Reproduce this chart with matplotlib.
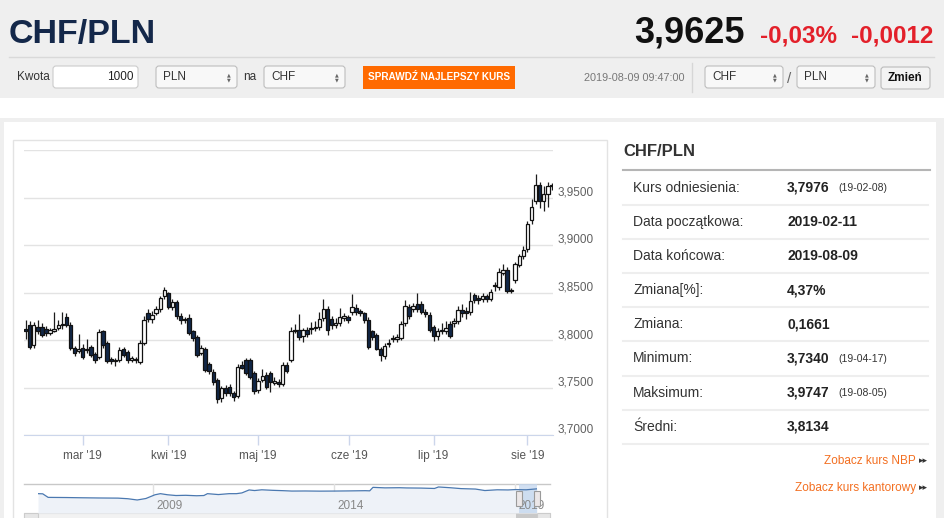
import numpy as np
import pandas as pd
import matplotlib
matplotlib.use('Agg')
import matplotlib.pyplot as plt
from matplotlib.patches import Rectangle, FancyBboxPatch
from matplotlib.transforms import ScaledTranslation, blended_transform_factory

plt.rcParams['font.family'] = ['Liberation Sans', 'DejaVu Sans']

# ---- daily CHF/PLN candles ----
opens = [3.812, 3.816, 3.795, 3.814, 3.814, 3.812, 3.807, 3.810, 3.813, 3.816,
         3.824, 3.816, 3.792, 3.788, 3.792, 3.789, 3.793, 3.785, 3.782, 3.809,
         3.797, 3.780, 3.778, 3.779, 3.791, 3.787, 3.779, 3.780, 3.777, 3.797,
         3.828, 3.822, 3.828, 3.833, 3.846, 3.849, 3.835, 3.840, 3.825, 3.822,
         3.823, 3.809, 3.803, 3.786, 3.791, 3.775, 3.766, 3.758, 3.739, 3.749,
         3.751, 3.744, 3.741, 3.774, 3.779, 3.779, 3.765, 3.747, 3.758, 3.763,
         3.765, 3.755, 3.756, 3.754, 3.774, 3.779, 3.810, 3.811, 3.804, 3.811,
         3.812, 3.813, 3.814, 3.823, 3.833, 3.822, 3.816, 3.818, 3.823, 3.824,
         3.829, 3.834, 3.830, 3.828, 3.821, 3.809, 3.805, 3.791, 3.783, 3.796,
         3.801, 3.801, 3.802, 3.818, 3.835, 3.833, 3.838, 3.838, 3.830, 3.826,
         3.814, 3.804, 3.809, 3.809, 3.817, 3.818, 3.820, 3.832, 3.830, 3.829,
         3.847, 3.844, 3.843, 3.846, 3.843, 3.857, 3.856, 3.871, 3.874, 3.852,
         3.863, 3.879, 3.888, 3.896, 3.926, 3.946, 3.963, 3.946, 3.954, 3.963]
closes = [3.809, 3.793, 3.816, 3.810, 3.805, 3.807, 3.811, 3.812, 3.816, 3.817,
          3.816, 3.792, 3.786, 3.791, 3.782, 3.791, 3.784, 3.779, 3.808, 3.795,
          3.778, 3.778, 3.779, 3.790, 3.784, 3.779, 3.781, 3.779, 3.797, 3.821,
          3.822, 3.826, 3.833, 3.844, 3.853, 3.835, 3.840, 3.825, 3.821, 3.821,
          3.807, 3.802, 3.784, 3.792, 3.768, 3.767, 3.756, 3.738, 3.749, 3.744,
          3.744, 3.740, 3.772, 3.771, 3.765, 3.761, 3.746, 3.757, 3.762, 3.751,
          3.756, 3.757, 3.754, 3.774, 3.767, 3.809, 3.811, 3.803, 3.811, 3.806,
          3.813, 3.813, 3.822, 3.833, 3.811, 3.816, 3.818, 3.824, 3.825, 3.821,
          3.835, 3.829, 3.828, 3.821, 3.793, 3.803, 3.791, 3.784, 3.794, 3.797,
          3.802, 3.803, 3.817, 3.836, 3.825, 3.836, 3.833, 3.830, 3.827, 3.811,
          3.804, 3.810, 3.810, 3.813, 3.804, 3.820, 3.832, 3.828, 3.828, 3.841,
          3.842, 3.842, 3.846, 3.843, 3.851, 3.857, 3.872, 3.874, 3.852, 3.852,
          3.880, 3.888, 3.895, 3.922, 3.940, 3.963, 3.946, 3.954, 3.962, 3.962]
highs = [3.821, 3.820, 3.819, 3.821, 3.818, 3.815, 3.813, 3.830, 3.821, 3.829,
         3.828, 3.819, 3.794, 3.806, 3.796, 3.801, 3.795, 3.787, 3.812, 3.811,
         3.799, 3.782, 3.781, 3.793, 3.793, 3.789, 3.783, 3.782, 3.800, 3.825,
         3.833, 3.831, 3.836, 3.846, 3.856, 3.851, 3.843, 3.842, 3.828, 3.824,
         3.827, 3.811, 3.805, 3.795, 3.793, 3.777, 3.769, 3.760, 3.752, 3.753,
         3.754, 3.746, 3.775, 3.778, 3.781, 3.781, 3.767, 3.760, 3.769, 3.766,
         3.767, 3.761, 3.759, 3.777, 3.777, 3.814, 3.817, 3.827, 3.813, 3.814,
         3.819, 3.820, 3.830, 3.843, 3.836, 3.825, 3.823, 3.834, 3.828, 3.826,
         3.848, 3.838, 3.833, 3.830, 3.824, 3.811, 3.807, 3.793, 3.797, 3.801,
         3.805, 3.806, 3.820, 3.842, 3.838, 3.839, 3.849, 3.841, 3.833, 3.829,
         3.816, 3.813, 3.818, 3.820, 3.820, 3.823, 3.836, 3.838, 3.835, 3.851,
         3.849, 3.847, 3.849, 3.848, 3.854, 3.861, 3.876, 3.880, 3.877, 3.855,
         3.882, 3.891, 3.899, 3.925, 3.948, 3.975, 3.966, 3.962, 3.966, 3.965]
lows = [3.801, 3.791, 3.792, 3.806, 3.803, 3.804, 3.805, 3.808, 3.811, 3.812,
        3.814, 3.790, 3.783, 3.786, 3.780, 3.786, 3.782, 3.776, 3.780, 3.792,
        3.776, 3.775, 3.773, 3.777, 3.782, 3.776, 3.777, 3.776, 3.775, 3.795,
        3.819, 3.818, 3.826, 3.830, 3.843, 3.833, 3.832, 3.822, 3.817, 3.818,
        3.805, 3.799, 3.782, 3.784, 3.766, 3.764, 3.753, 3.734, 3.735, 3.741,
        3.741, 3.736, 3.739, 3.769, 3.763, 3.759, 3.743, 3.744, 3.756, 3.748,
        3.745, 3.753, 3.751, 3.752, 3.765, 3.777, 3.807, 3.800, 3.798, 3.803,
        3.806, 3.810, 3.811, 3.820, 3.805, 3.812, 3.813, 3.815, 3.820, 3.818,
        3.826, 3.826, 3.825, 3.818, 3.791, 3.800, 3.789, 3.778, 3.780, 3.793,
        3.798, 3.798, 3.800, 3.815, 3.822, 3.830, 3.830, 3.827, 3.824, 3.808,
        3.799, 3.800, 3.806, 3.806, 3.802, 3.814, 3.817, 3.824, 3.822, 3.826,
        3.839, 3.838, 3.840, 3.840, 3.841, 3.852, 3.853, 3.868, 3.850, 3.850,
        3.860, 3.877, 3.885, 3.893, 3.922, 3.943, 3.939, 3.936, 3.940, 3.958]
dates = pd.bdate_range('2019-02-11', '2019-08-09')

month_starts = pd.to_datetime(['2019-03-01', '2019-04-01', '2019-05-01',
                               '2019-06-01', '2019-07-01', '2019-08-01'])
month_labels = ["mar '19", "kwi '19", "maj '19", "cze '19", "lip '19", "sie '19"]
y_ticks = [3.70, 3.75, 3.80, 3.85, 3.90, 3.95, 4.00]

# ---- long history for the navigator ----
nav_years = [2005.82, 2005.95, 2006.1, 2006.6, 2007.0, 2007.5, 2008.03, 2008.3, 2008.56,
             2008.8, 2009.05, 2009.2, 2009.4, 2009.63, 2009.9, 2010.2, 2010.4, 2010.5,
             2010.8, 2011.1, 2011.3, 2011.45, 2011.65, 2011.8, 2012.0, 2012.3, 2012.6,
             2012.83, 2013.2, 2013.6, 2014.0, 2014.4, 2014.86, 2014.98, 2015.07, 2015.4,
             2015.8, 2016.0, 2016.4, 2016.77, 2016.88, 2017.2, 2017.5, 2017.9, 2018.16,
             2018.5, 2018.8, 2019.0, 2019.3, 2019.6]
nav_values = [3.10, 3.08, 2.60, 2.58, 2.55, 2.52, 2.50, 2.42, 2.25,
              2.45, 2.95, 3.10, 2.95, 2.85, 2.88, 2.82, 2.85, 3.10,
              2.98, 3.10, 3.10, 3.20, 3.60, 3.52, 3.62, 3.55, 3.50,
              3.45, 3.46, 3.44, 3.45, 3.47, 3.50, 3.48, 3.95, 3.88,
              3.90, 3.87, 3.85, 3.80, 4.00, 3.90, 3.78, 3.72, 3.52,
              3.62, 3.60, 3.65, 3.62, 3.75]
nav_year_ticks = [2009, 2014, 2019]

stats_labels = ['Kurs odniesienia:', 'Data początkowa:', 'Data końcowa:', 'Zmiana[%]:',
                'Zmiana:', 'Minimum:', 'Maksimum:', 'Średni:']
stats_values = ['3,7976', '2019-02-11', '2019-08-09', '4,37%', '0,1661',
                '3,7340', '3,9747', '3,8134']
stats_dates = ['(19-02-08)', '', '', '', '', '(19-04-17)', '(19-08-05)', '']

W, H = 945, 518
fig = plt.figure(figsize=(W / 100, H / 100), dpi=100, facecolor='#efefef')


def box(l, t, r, b):
    return [l / W, 1 - b / H, (r - l) / W, (b - t) / H]


bg = fig.add_axes([0, 0, 1, 1])
bg.set_xlim(0, W)
bg.set_ylim(H, 0)
bg.axis('off')

# page background pieces
bg.add_patch(Rectangle((0, 98), W, 20, color='white', lw=0))
bg.add_patch(Rectangle((4, 122), 932, 400, color='white', lw=0))
bg.plot([9, 934], [57, 57], color='#d9d9d9', lw=1)

# header
bg.text(9, 43, 'CHF/PLN', fontsize=24.5, fontweight='bold', color='#14284a',
        va='baseline')
bg.text(745, 43, '3,9625', fontsize=26, fontweight='bold', color='#111111',
        ha='right', va='baseline')
bg.text(837, 42, '-0,03%', fontsize=17.5, fontweight='bold', color='#e3202a',
        ha='right', va='baseline')
bg.text(933, 42, '-0,0012', fontsize=17.5, fontweight='bold', color='#e3202a',
        ha='right', va='baseline')


def rbox(l, t, r, b, face, edge):
    bg.add_patch(FancyBboxPatch((l, t), r - l, b - t, boxstyle='round,pad=0,rounding_size=3',
                                facecolor=face, edgecolor=edge, lw=0.8))


def select(l, r, txt):
    rbox(l, 66, r, 88, '#f8f8f8', '#bdbdbd')
    bg.text(l + 7, 77, txt, fontsize=8.5, color='#333333', va='center')
    bg.text(r - 8, 74.5, '▲', fontsize=3.5, color='#666666', ha='center', va='center',
            family='DejaVu Sans')
    bg.text(r - 8, 79.5, '▼', fontsize=3.5, color='#666666', ha='center', va='center',
            family='DejaVu Sans')


bg.text(17, 77, 'Kwota', fontsize=8.5, color='#333333', va='center')
rbox(53, 66, 138, 88, 'white', '#cccccc')
bg.text(134, 77, '1000', fontsize=8.5, color='#222222', va='center', ha='right')
select(156, 237, 'PLN')
bg.text(243, 77, 'na', fontsize=8.5, color='#333333', va='center')
select(264, 345, 'CHF')
bg.add_patch(Rectangle((363, 66), 152, 23, color='#ff6a00', lw=0))
bg.text(439, 77.5, 'SPRAWDŹ NAJLEPSZY KURS', fontsize=7.2, color='white',
        ha='center', va='center', fontweight='bold')
bg.text(584, 78, '2019-08-09 09:47:00', fontsize=7.8, color='#777777', va='center')
bg.plot([692, 692], [63, 92], color='#d6d6d6', lw=1)
select(705, 783, 'CHF')
bg.text(789, 79, '/', fontsize=11, color='#666666', va='center', ha='center')
select(797, 875, 'PLN')
rbox(881, 67, 930, 89, '#f3f3f3', '#bbbbbb')
bg.text(905.5, 78, 'Zmień', fontsize=8.5, fontweight='bold', color='#111111',
        ha='center', va='center')

# chart panel frame
bg.add_patch(Rectangle((13, 140), 594, 390, facecolor='white', edgecolor='#e3e3e3', lw=1))

# ---- candlestick chart ----
ax = fig.add_axes(box(24, 150, 553, 435))
idx = np.arange(len(closes))
o = np.array(opens)
c = np.array(closes)
hi = np.array(highs)
lo = np.array(lows)
up = c >= o
ax.vlines(idx, lo, hi, color='#1c1c1c', lw=0.9, zorder=2)
bottom = np.minimum(o, c)
height = np.maximum(np.abs(c - o), 0.0007)
ax.bar(idx[up], height[up], bottom=bottom[up], width=0.84, color='white',
       edgecolor='#111111', lw=0.9, zorder=3)
ax.bar(idx[~up], height[~up], bottom=bottom[~up], width=0.84, color='#112748',
       edgecolor='#111111', lw=0.9, zorder=3)

slot = 4.08
ax.set_xlim((24 - 25.6) / slot, (553 - 25.6) / slot)
ax.set_ylim(3.70, 4.00)
ax.set_yticks(y_ticks)
ax.set_yticklabels([f'{v:.4f}'.replace('.', ',') if v < 3.999 else '' for v in y_ticks])
ax.yaxis.tick_right()
ax.tick_params(axis='y', length=0, pad=3, labelsize=8.5, labelcolor='#606060')
for lbl in ax.get_yticklabels():
    lbl.set_transform(lbl.get_transform() + ScaledTranslation(0, 0.065, fig.dpi_scale_trans))
ax.yaxis.grid(True, color='#e3e3e3', lw=1)
ax.set_axisbelow(True)

tick_pos = np.interp(month_starts.asi8, dates.asi8, idx)
ax.set_xticks(tick_pos)
ax.set_xticklabels(month_labels)
ax.tick_params(axis='x', length=7.5, width=1, color='#ccd6eb', labelsize=8.5,
               labelcolor='#555555', pad=3)
for side in ['top', 'left', 'right']:
    ax.spines[side].set_visible(False)
ax.spines['bottom'].set_color('#ccd6eb')

# ---- navigator ----
nav = fig.add_axes(box(38, 484, 537, 513))
nav.set_xlim(nav_years[0], nav_years[-1])
nav.set_ylim(0.5, 4.4)
nav.fill_between(nav_years, nav_values, 0.5, color='#eef2f8', lw=0)
nav.plot(nav_years, nav_values, color='#4a78b0', lw=0.9)
nav.axis('off')
tr = blended_transform_factory(nav.transData, nav.transAxes)
for yr in nav_year_ticks:
    nav.plot([yr, yr], [0, 1], transform=tr, color='#e0e0e0', lw=1, zorder=0)
    nav.text(yr + 0.1, 0.24, str(yr), transform=tr, fontsize=8.5, color='#888888',
             va='center', ha='left')
sel_start = dates[0].year + (dates[0].dayofyear - 1) / 365
sel_end = dates[-1].year + (dates[-1].dayofyear - 1) / 365
nav.axvspan(sel_start, sel_end, color='#c3d6ee', alpha=0.75, lw=0)
hw = 6 / 36.2
for xe in [sel_start, sel_end]:
    nav.add_patch(Rectangle((xe - hw / 2, 0.25), hw, 0.5, transform=tr, facecolor='#ebe7e8',
                            edgecolor='#9a9a9a', lw=0.8, clip_on=False, zorder=5))

bg.plot([24, 550], [484, 484], color='#c8c8c8', lw=1)
bg.add_patch(Rectangle((24, 513), 526, 8, facecolor='#f2f2f2', edgecolor='#dddddd', lw=0.8))
bg.add_patch(Rectangle((516, 513), 21, 8, facecolor='#c9c9c9', lw=0))
bg.add_patch(Rectangle((24, 513), 14, 8, facecolor='#e6e6e6', edgecolor='#cccccc', lw=0.8))
bg.add_patch(Rectangle((537, 513), 13, 8, facecolor='#e6e6e6', edgecolor='#cccccc', lw=0.8))

# ---- stats panel ----
bg.text(623, 152, 'CHF/PLN', fontsize=12, fontweight='bold', color='#333333', va='center')
bg.plot([623, 930], [169.5, 169.5], color='#b5b5b5', lw=1.5)
row_h = 34.2
for k, (lab, val, dt) in enumerate(zip(stats_labels, stats_values, stats_dates)):
    yc = 187.5 + k * row_h
    bg.text(633, yc, lab, fontsize=10, color='#333333', va='center')
    bg.text(787, yc, val, fontsize=10, fontweight='bold', color='#222222', va='center')
    if dt:
        bg.text(838, yc + 0.5, dt, fontsize=7.5, color='#333333', va='center')
    bg.plot([623, 928], [yc + row_h / 2, yc + row_h / 2], color='#eeeeee', lw=1.5)

bg.text(916, 461, 'Zobacz kurs NBP', fontsize=8.5, color='#f36f21', va='center', ha='right')
bg.text(928, 461, '▸▸', fontsize=6.5, color='#333333', va='center', ha='right',
        family='DejaVu Sans')
bg.text(916, 488, 'Zobacz kurs kantorowy', fontsize=8.5, color='#f36f21', va='center',
        ha='right')
bg.text(928, 488, '▸▸', fontsize=6.5, color='#333333', va='center', ha='right',
        family='DejaVu Sans')

fig.savefig('out.png', dpi=100, facecolor=fig.get_facecolor())
